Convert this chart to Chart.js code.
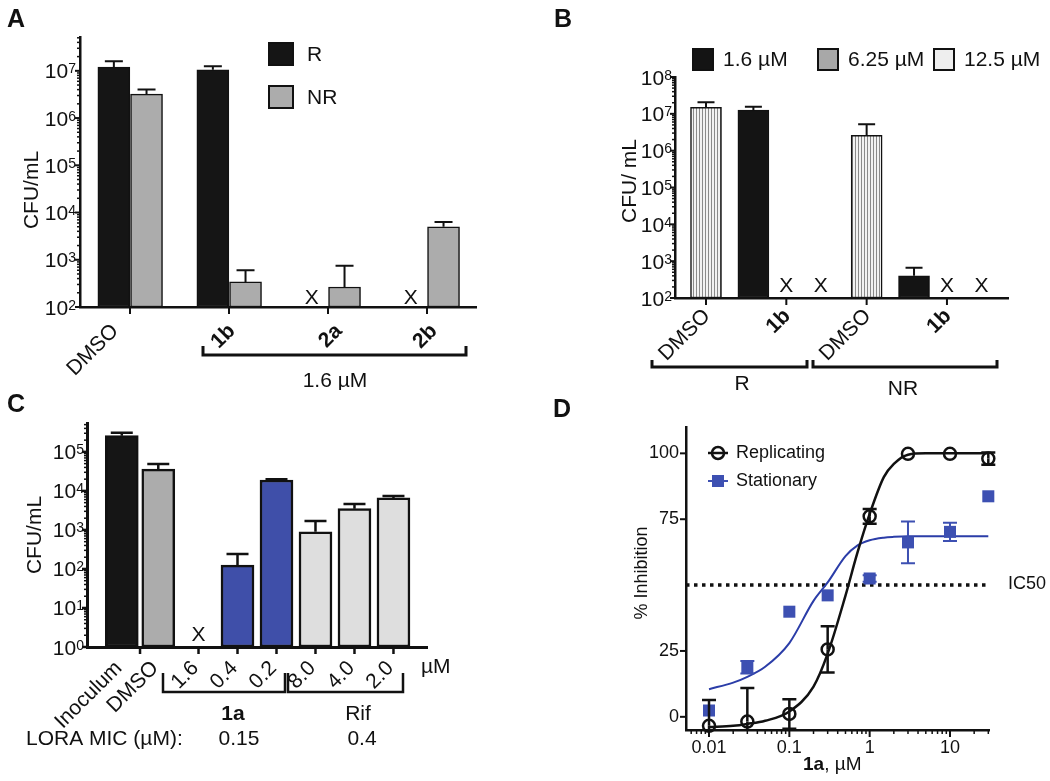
<!DOCTYPE html>
<html lang="en">
<head>
<meta charset="UTF-8">
<title>CFU / inhibition panels</title>
<script src="https://cdn.jsdelivr.net/npm/chart.js@4.4.1/dist/chart.umd.min.js"></script>
<style>
    body { margin: 0; background: #fff; }
    #page { position: relative; width: 1050px; height: 781px; overflow: hidden; background: #fff; }
    #page canvas { position: absolute; }
    .letter { position: absolute; font: bold 25px "Liberation Sans", Arial, sans-serif; line-height: 25px; color: #111; }
</style>
</head>
<body>
<div id="page">
    <canvas id="chartA" width="520" height="390" style="left:0;top:0"></canvas>
    <canvas id="chartB" width="530" height="400" style="left:520px;top:0"></canvas>
    <canvas id="chartC" width="520" height="391" style="left:0;top:390px"></canvas>
    <canvas id="chartD" width="490" height="391" style="left:560px;top:390px"></canvas>
    <div class="letter" style="left:7px;top:6px">A</div>
    <div class="letter" style="left:554px;top:6px">B</div>
    <div class="letter" style="left:7px;top:391px">C</div>
    <div class="letter" style="left:553px;top:396px">D</div>
</div>

<script>
    // ---------- A: CFU/mL, R vs NR (0 = no colonies, drawn as X)
    const aLabels = ['DMSO', '1b', '2a', '2b'];
    const aR = [1.2e7, 1.05e7, 0, 0];
    const aRErr = [1.6e7, 1.25e7, null, null];
    const aNR = [3.2e6, 340, 265, 5000];
    const aNRErr = [4.0e6, 600, 750, 6300];
    const aTicks = [1e2, 1e3, 1e4, 1e5, 1e6, 1e7];

    // ---------- B: concentrations of 1b, R and NR
    const bLabels = ['DMSO', '1b', 'DMSO', '1b'];
    const bDmso = [1.5e7, null, 2.6e6, null];
    const bDmsoErr = [2.05e7, null, 5.2e6, null];
    const b16 = [null, 1.26e7, null, 400];
    const b16Err = [null, 1.55e7, null, 665];
    const b625 = [null, 0, null, 0];
    const b125 = [null, 0, null, 0];
    const bTicks = [1e2, 1e3, 1e4, 1e5, 1e6, 1e7, 1e8];

    // ---------- C: 1a and Rif
    const cLabels = ['Inoculum', 'DMSO', '1.6', '0.4', '0.2', '8.0', '4.0', '2.0'];
    const cValues = [2.6e5, 3.6e4, 0, 125, 1.9e4, 900, 3500, 6600];
    const cErr = [3.1e5, 4.9e4, null, 240, 2.0e4, 1700, 4600, 7400];
    const cColors = ['#151515', '#acacac', '#3f4fa9', '#3f4fa9', '#3f4fa9', '#dedede', '#dedede', '#dedede'];
    const cTicks = [1e0, 1e1, 1e2, 1e3, 1e4, 1e5];

    // ---------- D: % inhibition vs 1a
    const dConc = [0.01, 0.03, 0.1, 0.3, 1, 3, 10, 30];
    const dRep = [-3.4, -1.8, 1.1, 25.6, 76.1, 99.8, 99.8, 98];
    const dRepSd = [9.8, 12.7, 5.6, 8.8, 2.8, 0, 0, 2.3];
    const dStat = [2.4, 18.8, 39.9, 46.1, 52.5, 66.2, 70.2, 83.7];
    const dStatSd = [0, 2.4, 0, 0, 1.2, 7.9, 3.5, 0];
    const dFitConc = [0.01, 0.02, 0.03, 0.05, 0.1, 0.2, 0.3, 0.5, 0.7, 1, 1.5, 2, 3, 5, 10, 30];
    const dRepFit = [-3.9, -3.4, -2.7, -1.5, 2, 11.5, 24, 46, 62, 77, 91, 96, 99.5, 100, 100, 100];
    const dStatFit = [10.5, 13, 15.2, 19, 28, 44, 51, 61, 65, 67, 68, 68.3, 68.5, 68.5, 68.5, 68.5];
    const dIC50 = 50;
    const dTickX = [0.01, 0.1, 1, 10];
    const dTickY = [0, 25, 75, 100];
    const dXMin = 0.00517, dXMax = 30.6;

    const FONT = "'Liberation Sans', Arial, Helvetica, sans-serif";
    const INK = '#111';
    Chart.defaults.font.family = FONT;
    Chart.defaults.font.size = 21;
    Chart.defaults.color = INK;
    Chart.defaults.animation = false;

    function barData(vals, pos) {
        return vals.map((v, i) => ({x: pos[i], y: v > 0 ? v : null}));
    }

    function logMinors(scale) {
        const out = [];
        for (let k = Math.floor(Math.log10(scale.min)); k <= Math.ceil(Math.log10(scale.max)); k++) {
            for (let m = 2; m <= 9; m++) {
                const v = m * Math.pow(10, k);
                if (v >= scale.min && v <= scale.max) out.push(v);
            }
        }
        return out;
    }

    function logY(min, max, width, powers) {
        return {
            type: 'logarithmic', min: min, max: max, bounds: 'data',
            afterBuildTicks: s => { s.ticks = powers.map(v => ({value: v, major: true})); },
            afterFit: s => { s.width = width; },
            ticks: {display: false},
            grid: {display: false, drawTicks: false},
            border: {display: true, color: INK, width: 2.5}
        };
    }

    function barX(min, max, height, tickVals, labels, o) {
        return {
            type: 'linear', min: min, max: max, bounds: 'data', offset: false,
            afterBuildTicks: s => { s.ticks = tickVals.map(v => ({value: v})); },
            afterFit: s => { s.height = height; },
            ticks: {
                autoSkip: false, minRotation: 45, maxRotation: 45,
                padding: o.padding, labelOffset: o.labelOffset,
                font: c => ({size: 21, weight: o.bold && o.bold(labels[c.index]) ? 'bold' : 'normal'}),
                callback: (v, i) => labels[i]
            },
            grid: {display: false, drawTicks: false},
            border: {display: true, color: INK, width: 2.5}
        };
    }

    // tick marks, log minor ticks and 10^n labels
    function axisMarks(cfg) {
        return {
            id: 'axisMarks',
            afterDraw(chart) {
                const ctx = chart.ctx, a = chart.chartArea, xs = chart.scales.x, ys = chart.scales.y;
                const seg = (x0, y0, x1, y1) => { ctx.beginPath(); ctx.moveTo(x0, y0); ctx.lineTo(x1, y1); ctx.stroke(); };
                ctx.save();
                ctx.strokeStyle = INK;
                ctx.fillStyle = INK;
                ctx.lineWidth = cfg.lw || 2;
                (cfg.xTicks || xs.ticks.map(t => t.value)).forEach(v => {
                    const p = xs.getPixelForValue(v);
                    seg(p, a.bottom, p, a.bottom + cfg.xLen);
                });
                ys.ticks.forEach(t => {
                    const p = ys.getPixelForValue(t.value);
                    seg(a.left - cfg.yLen, p, a.left, p);
                });
                ctx.lineWidth = 1.5;
                if (cfg.xMinor) logMinors(xs).forEach(v => {
                    const p = xs.getPixelForValue(v);
                    seg(p, a.bottom, p, a.bottom + cfg.minorLen);
                });
                if (cfg.yMinor) logMinors(ys).forEach(v => {
                    const p = ys.getPixelForValue(v);
                    seg(a.left - cfg.minorLen, p, a.left, p);
                });
                if (cfg.powers) {
                    const size = cfg.size || 21, es = cfg.expSize || 14;
                    ys.ticks.forEach(t => {
                        const p = ys.getPixelForValue(t.value);
                        const e = String(Math.round(Math.log10(t.value)));
                        const xr = a.left - cfg.gap;
                        ctx.textAlign = 'right';
                        ctx.textBaseline = 'alphabetic';
                        ctx.font = es + 'px ' + FONT;
                        const ew = ctx.measureText(e).width;
                        ctx.fillText(e, xr, p - 0.358 * size + 0.716 * es);
                        ctx.font = size + 'px ' + FONT;
                        ctx.fillText('10', xr - ew, p + 0.358 * size);
                    });
                }
                ctx.restore();
            }
        };
    }

    const errorBars = {
        id: 'errorBars',
        afterDatasetsDraw(chart) {
            const ctx = chart.ctx, ys = chart.scales.y, a = chart.chartArea;
            ctx.save();
            ctx.beginPath();
            ctx.rect(a.left - 30, a.top - 30, a.right - a.left + 60, a.bottom - a.top + 30);
            ctx.clip();
            chart.data.datasets.forEach((ds, i) => {
                if (!ds.errTop && !ds.errSd) return;
                const meta = chart.getDatasetMeta(i);
                ctx.strokeStyle = ds.errColor || INK;
                ctx.lineWidth = ds.errWidth || 2;
                const cap = (ds.capWidth || 16) / 2;
                meta.data.forEach((el, j) => {
                    const y = ds.data[j].y;
                    if (y === null || y === undefined) return;
                    const ends = [];
                    if (ds.errTop && ds.errTop[j]) ends.push(ys.getPixelForValue(ds.errTop[j]));
                    if (ds.errSd && ds.errSd[j]) {
                        ends.push(ys.getPixelForValue(y + ds.errSd[j]));
                        ends.push(ys.getPixelForValue(y - ds.errSd[j]));
                    }
                    ends.forEach(p => {
                        ctx.beginPath();
                        ctx.moveTo(el.x, el.y);
                        ctx.lineTo(el.x, Math.min(p, a.bottom));
                        if (p <= a.bottom) {
                            ctx.moveTo(el.x - cap, p);
                            ctx.lineTo(el.x + cap, p);
                        }
                        ctx.stroke();
                    });
                });
            });
            ctx.restore();
        }
    };

    function noGrowth(lift) {
        return {
            id: 'noGrowth',
            afterDatasetsDraw(chart) {
                const ctx = chart.ctx, xs = chart.scales.x, a = chart.chartArea;
                ctx.save();
                ctx.fillStyle = INK;
                ctx.font = '21px ' + FONT;
                ctx.textAlign = 'center';
                ctx.textBaseline = 'middle';
                chart.data.datasets.forEach(ds => {
                    (ds.noGrowth || []).forEach((z, j) => {
                        if (z) ctx.fillText('X', xs.getPixelForValue(ds.data[j].x), a.bottom - lift);
                    });
                });
                ctx.restore();
            }
        };
    }

    function notes(cfg) {
        return {
            id: 'notes',
            afterDraw(chart) {
                const ctx = chart.ctx;
                ctx.save();
                ctx.strokeStyle = INK;
                (cfg.brackets || []).forEach(b => {
                    ctx.lineWidth = b.lw || 2.5;
                    ctx.beginPath();
                    ctx.moveTo(b.x0, b.y - b.h);
                    ctx.lineTo(b.x0, b.y);
                    ctx.lineTo(b.x1, b.y);
                    ctx.lineTo(b.x1, b.y - b.h);
                    ctx.stroke();
                });
                (cfg.boxes || []).forEach(b => {
                    ctx.fillStyle = b.fill;
                    ctx.fillRect(b.x, b.y, b.w, b.h);
                    ctx.lineWidth = 2;
                    ctx.strokeRect(b.x, b.y, b.w, b.h);
                });
                (cfg.texts || []).forEach(t => {
                    ctx.save();
                    ctx.fillStyle = INK;
                    ctx.font = (t.bold ? 'bold ' : '') + (t.size || 21) + 'px ' + FONT;
                    ctx.textAlign = t.align || 'center';
                    ctx.textBaseline = 'middle';
                    ctx.translate(t.x, t.y);
                    if (t.rot) ctx.rotate(t.rot * Math.PI / 180);
                    ctx.fillText(t.text, 0, 0);
                    ctx.restore();
                });
                if (cfg.extra) cfg.extra(ctx, chart);
                ctx.restore();
            }
        };
    }

    function baseOptions(pad) {
        return {
            responsive: false,
            events: [],
            layout: {padding: pad},
            plugins: {legend: {display: false}, tooltip: {enabled: false}}
        };
    }

    // ================= A =================
    const aPos = aLabels.map((_, i) => i);
    // rotated names sit a little off their tick, as in the original figure
    const aLabelShift = [-0.15, 0.03, 0.11, 0.07];
    const optA = baseOptions({left: 0, top: 37, right: 44, bottom: 0});
    optA.scales = {
        x: barX(-0.505, 3.495, 83, aPos.map((p, i) => p + aLabelShift[i]), aLabels,
            {padding: 12, labelOffset: 0, bold: l => l !== 'DMSO'}),
        y: logY(100, 5.2e7, 80, aTicks)
    };
    new Chart(document.getElementById('chartA'), {
        type: 'bar',
        data: {
            datasets: [
                {label: 'R', data: barData(aR, aPos.map(p => p - 0.163)), noGrowth: aR.map(v => v === 0),
                    errTop: aRErr, capWidth: 18, backgroundColor: '#151515', borderColor: INK, borderWidth: 1.5,
                    borderSkipped: false, barThickness: 32, grouped: false},
                {label: 'NR', data: barData(aNR, aPos.map(p => p + 0.167)), noGrowth: aNR.map(v => v === 0),
                    errTop: aNRErr, capWidth: 18, backgroundColor: '#acacac', borderColor: INK, borderWidth: 1.5,
                    borderSkipped: false, barThickness: 32, grouped: false}
            ]
        },
        options: optA,
        plugins: [errorBars, noGrowth(9),
            axisMarks({xTicks: aPos, xLen: 7, yLen: 5, minorLen: 3, yMinor: true, powers: true, gap: 4}),
            notes({
                boxes: [{x: 269, y: 43, w: 24, h: 22, fill: '#151515'}, {x: 269, y: 86, w: 24, h: 22, fill: '#acacac'}],
                brackets: [{x0: 203, x1: 466, y: 355, h: 9, lw: 3}],
                texts: [
                    {text: 'R', x: 307, y: 55, align: 'left'},
                    {text: 'NR', x: 307, y: 98, align: 'left'},
                    {text: '1.6 µM', x: 335, y: 381},
                    {text: 'CFU/mL', x: 32, y: 190, rot: -90}
                ]
            })]
    });

    // ================= B =================
    const bPos = bLabels.map((_, i) => i);
    const stripe = document.createElement('canvas');
    stripe.width = 3;
    stripe.height = 3;
    const sctx = stripe.getContext('2d');
    sctx.fillStyle = '#f2f2f2';
    sctx.fillRect(0, 0, 3, 3);
    sctx.fillStyle = '#8a8a8a';
    sctx.fillRect(2, 0, 1, 3);
    const stripePattern = sctx.createPattern(stripe, 'repeat');

    const optB = baseOptions({left: 0, top: 77, right: 42, bottom: 0});
    optB.scales = {
        x: barX(-0.386, 3.76, 102, bPos, bLabels, {padding: 6, labelOffset: 1, bold: l => l !== 'DMSO'}),
        y: logY(100, 1e8, 155, bTicks)
    };
    const bBar = {borderColor: INK, borderWidth: 1.5, borderSkipped: false, barThickness: 31, grouped: false, capWidth: 17};
    new Chart(document.getElementById('chartB'), {
        type: 'bar',
        data: {
            datasets: [
                Object.assign({label: 'DMSO', data: barData(bDmso, bPos), errTop: bDmsoErr, backgroundColor: stripePattern}, bBar),
                Object.assign({label: '1.6 µM', data: barData(b16, bPos.map(p => p - 0.41)), errTop: b16Err, backgroundColor: '#141414'}, bBar),
                Object.assign({label: '6.25 µM', data: barData(b625, bPos), noGrowth: b625.map(v => v === 0), backgroundColor: '#a8a8a8'}, bBar),
                Object.assign({label: '12.5 µM', data: barData(b125, bPos.map(p => p + 0.43)), noGrowth: b125.map(v => v === 0), backgroundColor: '#eeeeee'}, bBar)
            ]
        },
        options: optB,
        plugins: [errorBars, noGrowth(12),
            axisMarks({xLen: 7, yLen: 5, minorLen: 3, yMinor: true, powers: true, gap: 3}),
            notes({
                boxes: [
                    {x: 173, y: 49, w: 20, h: 21, fill: '#141414'},
                    {x: 298, y: 49, w: 20, h: 21, fill: '#a8a8a8'},
                    {x: 414, y: 49, w: 20, h: 21, fill: '#eeeeee'}
                ],
                brackets: [{x0: 132, x1: 287, y: 367, h: 7, lw: 3}, {x0: 293, x1: 477, y: 367, h: 7, lw: 3}],
                texts: [
                    {text: '1.6 µM', x: 203, y: 60, align: 'left'},
                    {text: '6.25 µM', x: 328, y: 60, align: 'left'},
                    {text: '12.5 µM', x: 444, y: 60, align: 'left'},
                    {text: 'R', x: 222, y: 384},
                    {text: 'NR', x: 383, y: 389},
                    {text: 'CFU/ mL', x: 110, y: 181, rot: -90}
                ]
            })]
    });

    // ================= C =================
    // Inoculum and DMSO share the first slot, the dilutions follow one slot apart
    const cPos = cLabels.map((_, i) => i < 2 ? (i - 0.5) * 0.936 : i - 0.5);
    const cGroupTicks = [0].concat(cPos.slice(2));
    const optC = baseOptions({left: 0, top: 33, right: 93, bottom: 0});
    optC.scales = {
        x: barX(-1.36, 7.36, 134, cPos, cLabels, {padding: 9, labelOffset: -3}),
        y: logY(1, 5.5e5, 87, cTicks)
    };
    optC.scales.x.border.width = 3;
    optC.scales.y.border.width = 3;
    new Chart(document.getElementById('chartC'), {
        type: 'bar',
        data: {
            datasets: [{
                label: 'CFU/mL', data: barData(cValues, cPos), noGrowth: cValues.map(v => v === 0),
                errTop: cErr, capWidth: 22, errWidth: 2.5,
                backgroundColor: cColors, borderColor: INK, borderWidth: 2.5, borderSkipped: false,
                barThickness: 33, grouped: false
            }]
        },
        options: optC,
        plugins: [errorBars, noGrowth(12),
            axisMarks({xTicks: cGroupTicks, xLen: 7, yLen: 5, minorLen: 3, yMinor: true, powers: true, gap: 3, lw: 2.5}),
            notes({
                brackets: [{x0: 163, x1: 285, y: 302, h: 19}, {x0: 288, x1: 403, y: 302, h: 19}],
                texts: [
                    {text: 'µM', x: 421, y: 277, align: 'left'},
                    {text: '1a', x: 233, y: 324, bold: true},
                    {text: 'Rif', x: 358, y: 324},
                    {text: 'LORA MIC (µM):', x: 26, y: 349, align: 'left'},
                    {text: '0.15', x: 239, y: 349},
                    {text: '0.4', x: 362, y: 349},
                    {text: 'CFU/mL', x: 35, y: 145, rot: -90}
                ]
            })]
    });

    // ================= D =================
    const pts = (xs, ys) => xs.map((x, i) => ({x: x, y: ys[i]}));
    const BLUE = '#3d50b2';
    const optD = baseOptions({left: 0, top: 37, right: 61, bottom: 0});
    optD.scales = {
        x: {
            type: 'logarithmic', min: dXMin, max: dXMax, bounds: 'data',
            afterBuildTicks: s => { s.ticks = dTickX.map(v => ({value: v, major: true})); },
            afterFit: s => { s.height = 51; },
            ticks: {autoSkip: false, maxRotation: 0, font: {size: 18}, padding: 7, callback: v => String(v)},
            grid: {display: false, drawTicks: false},
            border: {display: true, color: INK, width: 2.5}
        },
        y: {
            type: 'linear', min: -5, max: 110, bounds: 'data',
            afterBuildTicks: s => { s.ticks = dTickY.map(v => ({value: v})); },
            afterFit: s => { s.width = 126; },
            ticks: {font: {size: 18}, padding: 7},
            grid: {display: false, drawTicks: false},
            border: {display: true, color: INK, width: 2.5}
        }
    };
    new Chart(document.getElementById('chartD'), {
        type: 'scatter',
        data: {
            datasets: [
                {label: 'Replicating', data: pts(dConc, dRep), errSd: dRepSd, capWidth: 14, errWidth: 2.5,
                    pointStyle: 'circle', pointRadius: 6, borderWidth: 2.5, borderColor: INK,
                    backgroundColor: 'rgba(0,0,0,0)', clip: false},
                {label: 'Stationary', data: pts(dConc, dStat), errSd: dStatSd, capWidth: 14, errWidth: 2, errColor: BLUE,
                    pointStyle: 'rect', pointRadius: 8.5, borderWidth: 0, backgroundColor: BLUE, clip: false},
                {label: 'Replicating fit', data: pts(dFitConc, dRepFit), showLine: true, pointRadius: 0,
                    borderColor: INK, borderWidth: 2.5, cubicInterpolationMode: 'monotone'},
                {label: 'Stationary fit', data: pts(dFitConc, dStatFit), showLine: true, pointRadius: 0,
                    borderColor: '#2b3da8', borderWidth: 2, cubicInterpolationMode: 'monotone'},
                {label: 'IC50', data: [{x: dXMin, y: dIC50}, {x: dXMax, y: dIC50}], showLine: true, pointRadius: 0,
                    borderColor: INK, borderWidth: 3.5, borderDash: [3.5, 4.5]}
            ]
        },
        options: optD,
        plugins: [errorBars,
            axisMarks({xLen: 7, yLen: 6, minorLen: 4, xMinor: true}),
            notes({
                texts: [
                    {text: 'Replicating', x: 176, y: 63, align: 'left', size: 18},
                    {text: 'Stationary', x: 176, y: 91, align: 'left', size: 18},
                    {text: 'IC50', x: 448, y: 194, align: 'left', size: 18},
                    {text: '% Inhibition', x: 82, y: 183, rot: -90, size: 18}
                ],
                extra: (ctx) => {
                    // legend symbols
                    ctx.strokeStyle = INK;
                    ctx.lineWidth = 2.5;
                    ctx.beginPath();
                    ctx.moveTo(148, 63);
                    ctx.lineTo(168, 63);
                    ctx.stroke();
                    ctx.beginPath();
                    ctx.arc(158, 63, 6, 0, Math.PI * 2);
                    ctx.stroke();
                    ctx.strokeStyle = BLUE;
                    ctx.lineWidth = 2;
                    ctx.beginPath();
                    ctx.moveTo(148, 91);
                    ctx.lineTo(168, 91);
                    ctx.stroke();
                    ctx.fillStyle = BLUE;
                    ctx.fillRect(152, 85, 12, 12);
                    // x title with bold compound name
                    ctx.fillStyle = INK;
                    ctx.textAlign = 'left';
                    ctx.textBaseline = 'middle';
                    ctx.font = 'bold 19px ' + FONT;
                    ctx.fillText('1a', 243, 375);
                    const w = ctx.measureText('1a').width;
                    ctx.font = '19px ' + FONT;
                    ctx.fillText(', µM', 243 + w, 375);
                }
            })]
    });
</script>
</body>
</html>
